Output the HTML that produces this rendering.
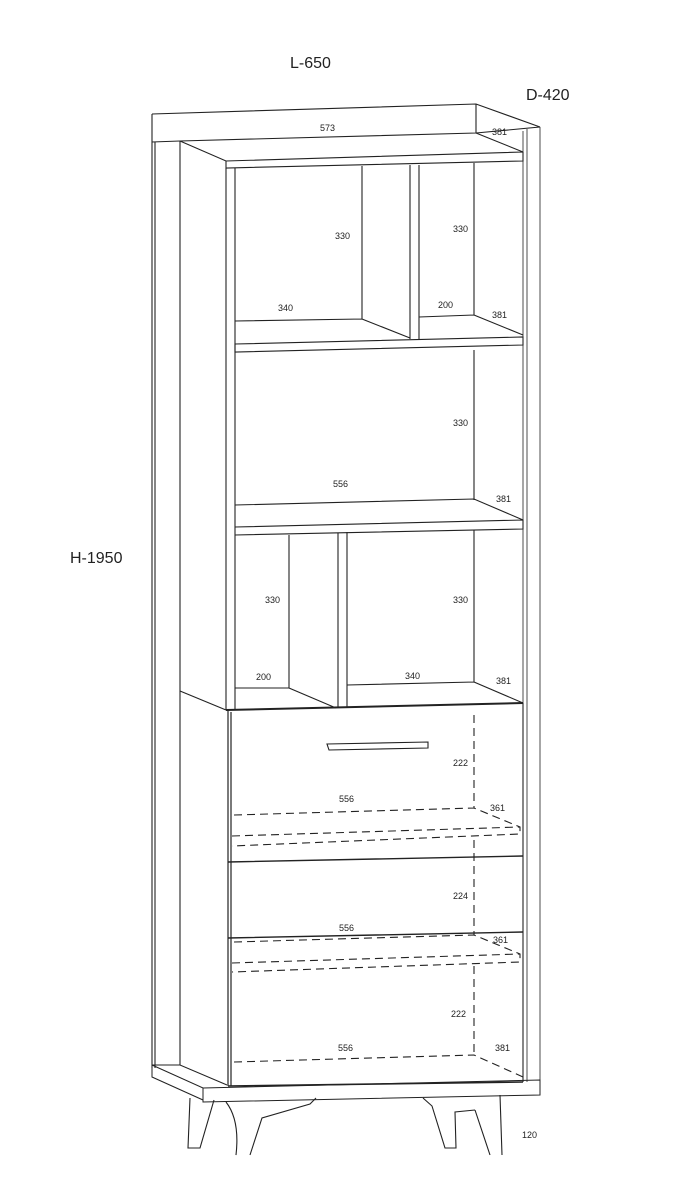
<!DOCTYPE html>
<html><head><style>
html,body{margin:0;padding:0;background:#fff}
svg{display:block}
text{font-family:"Liberation Sans",sans-serif;fill:#222}
.s{font-size:9px}
.b{font-size:16px}
</style></head><body>
<svg width="695" height="1187" viewBox="0 0 695 1187" xmlns="http://www.w3.org/2000/svg" fill="none" stroke="#222" stroke-width="1.1">
<text class="b" x="290" y="68" stroke="none">L-650</text>
<text class="b" x="526" y="100" stroke="none">D-420</text>
<text class="b" x="70" y="563" stroke="none">H-1950</text>

<!-- top panel -->
<path d="M152,114 L476,104 L540,127 M152,142 L180,141 L476,133 L540,127 M476,104 L476,133"/>
<path d="M152,114 L152,1068 M155,142 L155,1068 M180,141 L180,1065"/>
<!-- right side panel -->
<path d="M527,129 L527,1082 M540,127 L540,1080 M523,131 L523,1082" stroke-width="0.8"/>
<!-- top shelf -->
<path d="M180,141 L226,161 L523,152 L476,133 M226,161 L226,168 L523,161 L523,152"/>
<!-- left front verticals -->
<path d="M226,168 L226,710 M235,168 L235,710"/>
<!-- upper section -->
<path d="M362,166 L362,319 L410,338 M235,321 L362,319 M410,165 L410,339 M419,165 L419,339 M474,163 L474,315 L523,335 M419,317 L474,315"/>
<!-- shelf 2 -->
<path d="M235,344 L523,337 L523,345 L235,352 Z"/>
<path d="M474,350 L474,500"/>
<!-- shelf 3 -->
<path d="M235,505 L474,499 L523,520 L523,529 L235,535 M235,527 L523,520"/>
<!-- bottom section -->
<path d="M289,535 L289,688 L336,708 M235,688 L289,688 M338,533 L338,708 M347,532 L347,707 M474,530 L474,682 L523,703 M347,685 L474,682"/>
<path d="M180,691 L226,710"/>
<!-- drawers -->
<path d="M226,710 L523,703" stroke-width="2"/>
<path d="M228,710 L228,1086 M231,712 L231,1086" stroke-width="1.2"/>
<path d="M228,862 L523,856 M228,938 L523,932" stroke-width="1.4"/>
<path d="M523,703 L523,1082"/>
<!-- handle -->
<path d="M327,744 L428,742 L428,748 L329,750 Z M327,744 L329,750"/>
<!-- dashed -->
<g stroke-dasharray="8,5">
<path d="M474,715 L474,808 M234,815 L474,808 L520,827 L520,834 L232,846 M232,836 L520,827 M474,840 L474,935"/>
<path d="M234,942 L474,935 L520,954 L520,962 L232,972 M232,963 L520,954 M474,966 L474,1055 M234,1062 L474,1055 L523,1077"/>
</g>
<!-- base -->
<path d="M152,1065 L180,1065 L227,1085 M152,1065 L152,1077 L203,1100 M152,1065 L203,1088 L540,1080 L540,1095 L203,1102 L203,1088" stroke-width="1"/>
<path d="M228,1086 L523,1082" stroke-width="1.6"/>
<!-- legs -->
<path d="M190,1098 L188,1148 L200,1148 L214,1100"/>
<path d="M226,1102 Q240,1120 236,1155 M250,1155 L262,1118 L310,1104 L316,1098"/>
<path d="M423,1098 L432,1106 L445,1148 L456,1148 L455,1112 L475,1110 M475,1110 L490,1155 M500,1095 L502,1155"/>

<g stroke="none" class="s">
<text x="320" y="131">573</text>
<text x="492" y="135">381</text>
<text x="335" y="239">330</text>
<text x="453" y="232">330</text>
<text x="278" y="311">340</text>
<text x="438" y="308">200</text>
<text x="492" y="318">381</text>
<text x="453" y="426">330</text>
<text x="333" y="487">556</text>
<text x="496" y="502">381</text>
<text x="265" y="603">330</text>
<text x="453" y="603">330</text>
<text x="256" y="680">200</text>
<text x="405" y="679">340</text>
<text x="496" y="684">381</text>
<text x="453" y="766">222</text>
<text x="339" y="802">556</text>
<text x="490" y="811">361</text>
<text x="453" y="899">224</text>
<text x="339" y="931">556</text>
<text x="493" y="943">361</text>
<text x="451" y="1017">222</text>
<text x="338" y="1051">556</text>
<text x="495" y="1051">381</text>
<text x="522" y="1138">120</text>
</g>
</svg>
</body></html>
